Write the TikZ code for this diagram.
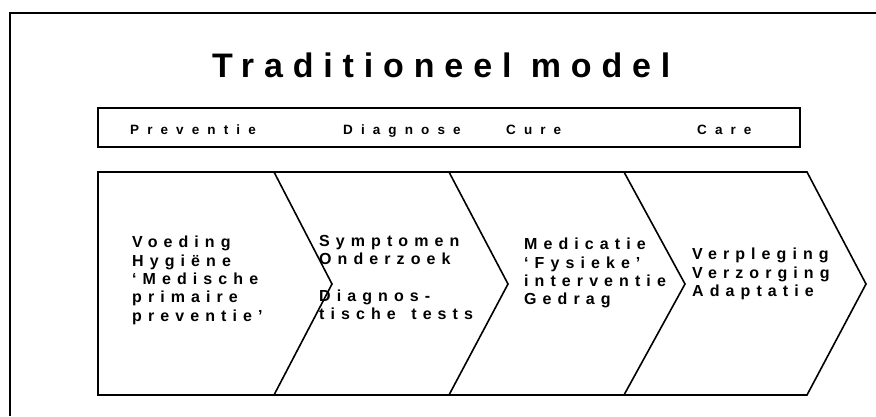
\documentclass[tikz,border=0pt]{standalone}
\usepackage{fontspec}
\setmainfont{Liberation Sans}
\newfontfamily\spacedbody[LetterSpace=38]{Liberation Sans}
\newfontfamily\spacedtitle[LetterSpace=29]{Liberation Sans}
\newfontfamily\spacedphase[LetterSpace=60]{Liberation Sans}
\begin{document}
\begin{tikzpicture}[x=1pt,y=-1pt,
  shapeline/.style={draw=black,line width=1.6pt,line join=miter},
  frameline/.style={draw=black,line width=2.5pt},
  bodytext/.style={inner sep=0pt,anchor=north west,align=left,font=\spacedbody\bfseries\fontsize{16}{18.3}\selectfont},
  phasetext/.style={inner sep=0pt,anchor=base west,font=\spacedphase\bfseries\fontsize{13.5}{15}\selectfont},
  titletext/.style={inner sep=0pt,anchor=base west,font=\spacedtitle\bfseries\fontsize{34}{38}\selectfont}]
\useasboundingbox (0,0) rectangle (876,416);
% outer frame
\draw[frameline] (10,416) -- (10,13) -- (876,13);
% title
\node[titletext] (title) at (212,77) {Traditioneel model};
% phase box
\draw[shapeline] (98,108) rectangle (800,147);
\node[phasetext] (prev) at (130,134) {Preventie};
\node[phasetext] (diag) at (343,134) {Diagnose};
\node[phasetext] (cure) at (506,134) {Cure};
\node[phasetext] (care) at (697,134) {Care};
% chevrons
\draw[shapeline] (98,172) -- (274,172) -- (332,284) -- (274,395) -- (98,395) -- cycle;
\draw[shapeline] (274,172) -- (449,172) -- (508,284) -- (449,395) -- (274,395);
\draw[shapeline] (449,172) -- (624,172) -- (685,284) -- (624,395) -- (449,395);
\draw[shapeline] (624,172) -- (807,172) -- (866,284) -- (807,395) -- (624,395);
% texts
\node[bodytext] (t1) at (132,236) {Voeding\\Hygiëne\\‘Medische\\primaire\\preventie’};
\node[bodytext] (t2) at (319,235) {Symptomen\\Onderzoek\\[18.3pt]Diagnos-\\tische\hspace{5pt} tests};
\node[bodytext] (t3) at (524,238) {Medicatie\\‘Fysieke’\\interventie\\Gedrag};
\node[bodytext] (t4) at (692,248) {Verpleging\\Verzorging\\Adaptatie};
\end{tikzpicture}
\end{document}
